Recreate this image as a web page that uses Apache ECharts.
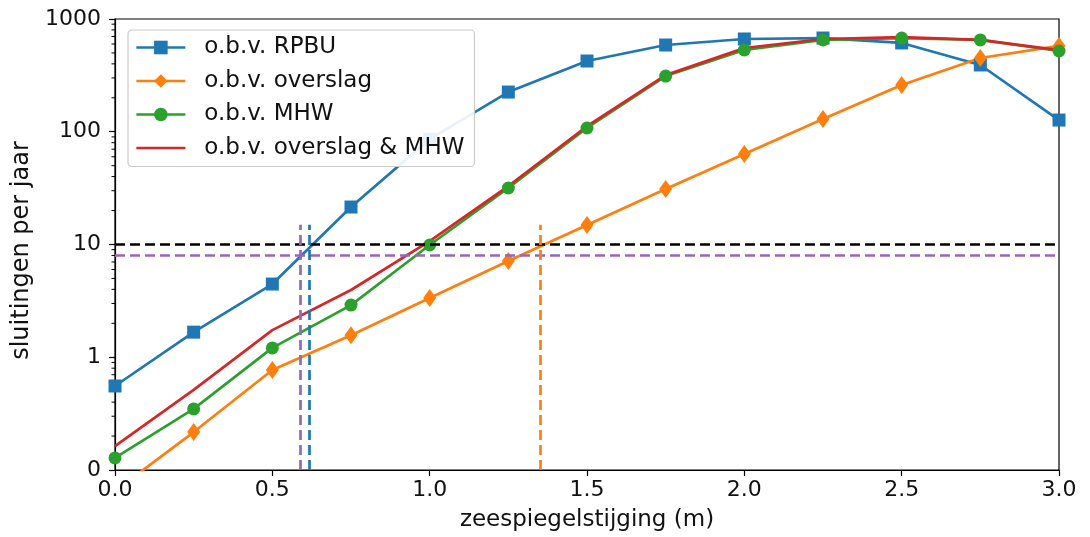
<!DOCTYPE html>
<html><head><meta charset="utf-8">
<script src="https://cdn.jsdelivr.net/npm/echarts@6/dist/echarts.min.js"></script>
<style>html,body{margin:0;padding:0;background:#fff}#c{width:1090px;height:537px}</style>
</head><body><div id="c"></div>
<script>
// ---- data ----
const xValues = [0, 0.25, 0.5, 0.75, 1.0, 1.25, 1.5, 1.75, 2.0, 2.25, 2.5, 2.75, 3.0];
const rpbu     = [0.556, 1.67, 4.46, 21.5, 86, 225, 424, 588, 665, 678, 613, 391, 127];
const overslag = [0.065, 0.217, 0.77, 1.57, 3.35, 7.14, 14.9, 31, 63.5, 130, 260, 451, 577];
const mhw      = [0.128, 0.348, 1.21, 2.9, 9.9, 31.7, 108, 312, 531, 652, 678, 652, 520];
const combined = [0.163, 0.513, 1.74, 3.95, 10.7, 33, 112, 318, 553, 665, 692, 652, 530];
const seriesNames = ['o.b.v. RPBU', 'o.b.v. overslag', 'o.b.v. MHW', 'o.b.v. overslag & MHW'];
const hLines = [10, 8];                 // horizontal thresholds
const vLines = [0.588, 0.617, 1.351];   // vertical crossing markers
const vLineTop = 15;
const yTickValues = [0.1, 1, 10, 100, 1000];
const yTickLabels = ['0', '1', '10', '100', '1000'];
const minorMultipliers = [2, 3, 4, 5, 6, 7, 8, 9];
const minorDecades = [0.1, 1, 10, 100];

const C = {blue:'#1f77b4', orange:'#ff7f0e', green:'#2ca02c', red:'#d62728', purple:'#9467bd', black:'#000'};
const FONT = 'DejaVu Sans';
const pairs = arr => xValues.map((x, i) => [x, arr[i]]);
const minorTicks = [];
minorDecades.forEach(d => minorMultipliers.forEach(m => minorTicks.push([0, d * m])));

const LW = 2.7;
const dash = [10, 5];
function lineSeries(name, data, color, symbol, size) {
  return {
    name, type: 'line', data: pairs(data), symbol: symbol, symbolSize: size,
    showSymbol: symbol !== 'none', clip: true,
    lineStyle: {color, width: LW}, itemStyle: {color, borderWidth: 0},
    emphasis: {disabled: true}, animation: false
  };
}

const chart = echarts.init(document.getElementById('c'), null, {renderer: 'canvas'});
chart.setOption({
  animation: false,
  textStyle: {fontFamily: FONT},
  grid: {left: 115, right: 31, top: 19, bottom: 67, show: true, borderColor: '#000', borderWidth: 1.2, containLabel: false},
  xAxis: {
    type: 'value', min: 0, max: 3, interval: 0.5,
    name: 'zeespiegelstijging (m)', nameLocation: 'middle', nameGap: 39,
    nameTextStyle: {fontFamily: FONT, fontSize: 23, color: '#111'},
    axisLine: {lineStyle: {color: '#000', width: 1.2}},
    axisTick: {show: true, length: 6, lineStyle: {color: '#000', width: 1.2}},
    axisLabel: {fontFamily: FONT, fontSize: 22, color: '#111', margin: 9, formatter: v => v.toFixed(1)},
    splitLine: {show: false}
  },
  yAxis: {
    type: 'log', logBase: 10, min: 0.1, max: 1000, splitNumber: 4,
    name: 'sluitingen per jaar', nameLocation: 'middle', nameGap: 67, nameRotate: 90,
    nameTextStyle: {fontFamily: FONT, fontSize: 24, color: '#111', padding: [0, 12, 0, 0]},
    axisLine: {lineStyle: {color: '#000', width: 1.2}},
    axisTick: {show: true, length: 6, lineStyle: {color: '#000', width: 1.2}},
    axisLabel: {fontFamily: FONT, fontSize: 22, color: '#111', margin: 14,
      formatter: v => {
        let best = 0;
        yTickValues.forEach((t, i) => { if (Math.abs(Math.log10(t) - Math.log10(v)) < Math.abs(Math.log10(yTickValues[best]) - Math.log10(v))) best = i; });
        return yTickLabels[best];
      }},
    splitLine: {show: false}
  },
  legend: {
    data: [
      {name: seriesNames[0]},
      {name: seriesNames[1]},
      {name: seriesNames[2]},
      {name: seriesNames[3], itemStyle: {opacity: 0}}
    ],
    orient: 'vertical', left: 128, top: 30,
    itemWidth: 49, itemHeight: 17, itemGap: 10.5,
    padding: [6, 10, 7, 7],
    lineStyle: {width: 2.7},
    backgroundColor: 'rgba(255,255,255,0.9)', borderColor: '#cccccc', borderWidth: 1.2, borderRadius: 4,
    textStyle: {fontFamily: FONT, fontSize: 23, color: '#111', lineHeight: 23, padding: [0, 0, 0, 14]},
    selectedMode: false
  },
  series: [
    lineSeries(seriesNames[0], rpbu, C.blue, 'rect', 13),
    lineSeries(seriesNames[1], overslag, C.orange, 'diamond', [13, 18]),
    lineSeries(seriesNames[2], mhw, C.green, 'circle', 13),
    lineSeries(seriesNames[3], combined, C.red, 'none', 0),
    {
      name: 'refs', type: 'line', data: [], silent: true,
      markLine: {
        silent: true, symbol: 'none', animation: false, label: {show: false},
        data: [
          {yAxis: hLines[0], lineStyle: {color: C.black, type: dash, width: LW}},
          {yAxis: hLines[1], lineStyle: {color: C.purple, type: dash, width: LW}},
          [{coord: [vLines[0], 0.1], lineStyle: {color: C.purple, type: dash, width: LW}}, {coord: [vLines[0], vLineTop]}],
          [{coord: [vLines[1], 0.1], lineStyle: {color: C.blue, type: dash, width: LW}}, {coord: [vLines[1], vLineTop]}],
          [{coord: [vLines[2], 0.1], lineStyle: {color: C.orange, type: dash, width: LW}}, {coord: [vLines[2], vLineTop]}]
        ]
      }
    },
    {
      name: 'minorTicks', type: 'custom', data: minorTicks, silent: true, clip: false,
      renderItem: (params, api) => {
        const p = api.coord([0, api.value(1)]);
        return {type: 'line', shape: {x1: p[0] - 3.5, y1: p[1], x2: p[0], y2: p[1]},
          style: {stroke: '#000', lineWidth: 1}};
      }
    }
  ]
});
</script></body></html>
